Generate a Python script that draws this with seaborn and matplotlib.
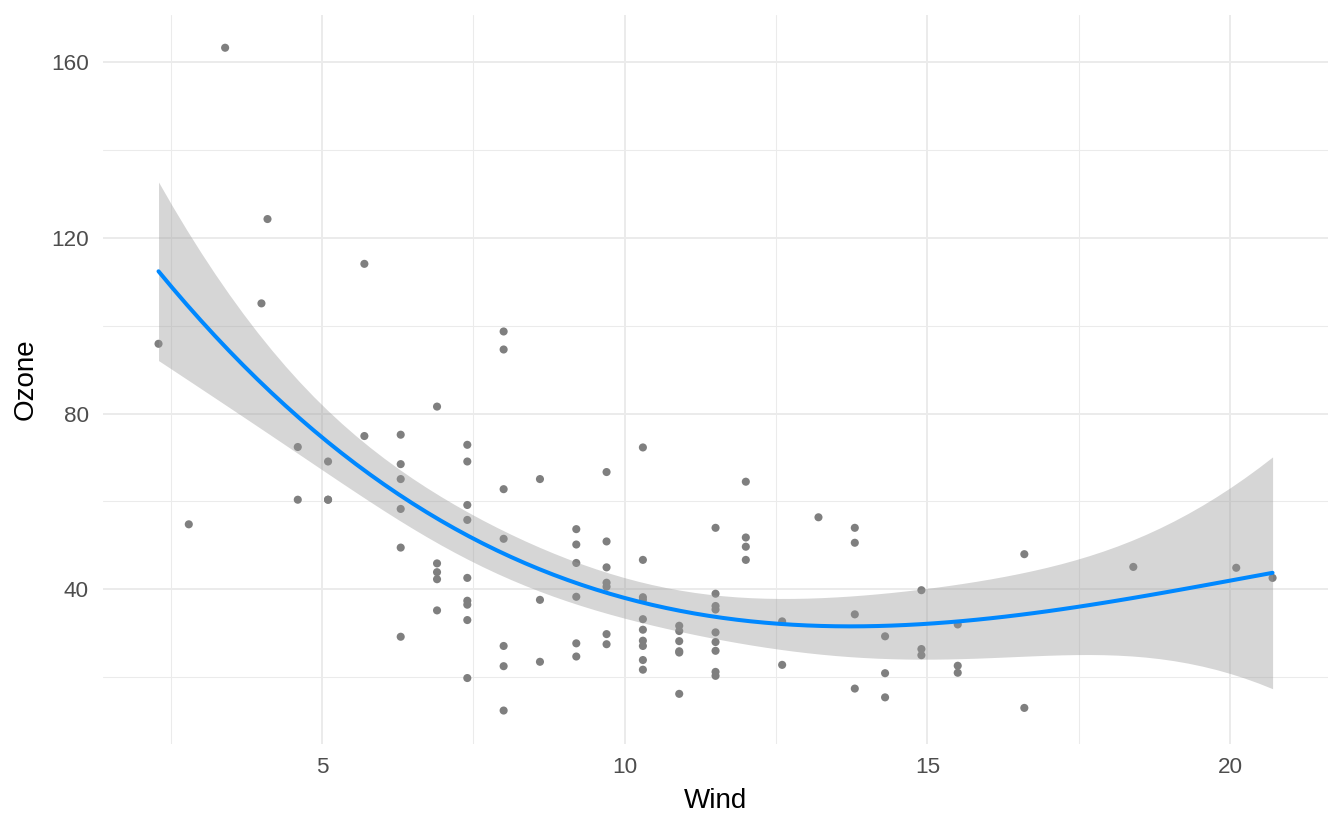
import numpy as np
import pandas as pd
import seaborn as sns
import matplotlib.pyplot as plt
from matplotlib.ticker import MultipleLocator

# Ozone vs Wind readings
wind = [2.3, 2.8, 3.4, 4.0, 4.1,
        4.6, 4.6,
        5.1, 5.1, 5.1,
        5.7, 5.7,
        6.3, 6.3, 6.3, 6.3, 6.3, 6.3,
        6.9, 6.9, 6.9, 6.9, 6.9,
        7.4, 7.4, 7.4, 7.4, 7.4, 7.4, 7.4, 7.4, 7.4,
        8.0, 8.0, 8.0, 8.0, 8.0, 8.0, 8.0,
        8.6, 8.6, 8.6,
        9.2, 9.2, 9.2, 9.2, 9.2, 9.2,
        9.7, 9.7, 9.7, 9.7, 9.7, 9.7, 9.7,
        10.3, 10.3, 10.3, 10.3, 10.3, 10.3, 10.3, 10.3, 10.3, 10.3,
        10.9, 10.9, 10.9, 10.9, 10.9, 10.9,
        11.5, 11.5, 11.5, 11.5, 11.5, 11.5, 11.5, 11.5, 11.5,
        12.0, 12.0, 12.0, 12.0,
        12.6, 12.6,
        13.2,
        13.8, 13.8, 13.8, 13.8,
        14.3, 14.3, 14.3,
        14.9, 14.9, 14.9,
        15.5, 15.5, 15.5,
        16.6, 16.6,
        18.4, 20.1, 20.7]
ozone = [95.9, 54.8, 163.3, 105.1, 124.3,
         72.4, 60.4,
         69.1, 60.4, 60.4,
         114.1, 74.9,
         75.2, 68.5, 65.1, 58.3, 49.5, 29.2,
         81.6, 45.9, 43.9, 42.3, 35.2,
         72.9, 69.1, 59.2, 55.8, 42.6, 37.4, 36.5, 33.0, 19.8,
         98.7, 94.6, 62.8, 51.5, 27.1, 22.5, 12.4,
         65.1, 37.6, 23.5,
         53.7, 50.2, 46.0, 38.3, 27.7, 24.7,
         66.7, 50.9, 45.0, 41.5, 40.6, 29.8, 27.5,
         72.3, 46.7, 38.2, 37.6, 33.2, 30.8, 28.3, 27.1, 23.9, 21.7,
         31.7, 30.5, 28.2, 25.9, 25.6, 16.2,
         54.0, 39.0, 36.2, 35.4, 30.2, 28.0, 26.0, 21.2, 20.3,
         64.5, 51.8, 49.7, 46.7,
         32.7, 22.8,
         56.4,
         54.0, 50.6, 34.3, 17.4,
         29.3, 20.9, 15.4,
         39.8, 26.4, 25.0,
         32.0, 22.6, 21.0,
         48.0, 13.0,
         45.1, 44.9, 42.6]

df = pd.DataFrame({"Wind": wind, "Ozone": ozone})
x = df["Wind"].to_numpy()
y = df["Ozone"].to_numpy()

# cubic least squares fit with 95% confidence band
deg = 3
X = np.vander(x, deg + 1, increasing=True)
beta, *_ = np.linalg.lstsq(X, y, rcond=None)
resid = y - X @ beta
n, p = X.shape
sigma2 = resid @ resid / (n - p)
xtx_inv = np.linalg.inv(X.T @ X)
grid = np.linspace(x.min(), x.max(), 80)
G = np.vander(grid, deg + 1, increasing=True)
fit = G @ beta
se = np.sqrt(np.einsum("ij,jk,ik->i", G, xtx_inv, G) * sigma2)
t_crit = 1.983
fit_df = pd.DataFrame({"Wind": grid, "Ozone": fit,
                       "lo": fit - t_crit * se, "hi": fit + t_crit * se})

sns.set_theme(style="white")
plt.rcParams["font.family"] = ["Liberation Sans", "DejaVu Sans"]

fig = plt.figure(figsize=(13.44, 8.3), dpi=100)
ax = fig.add_axes([0.0765, 0.104, 0.9118, 0.8784])

sns.scatterplot(data=df, x="Wind", y="Ozone", ax=ax, color="#7F7F7F",
                s=34, edgecolor="none", linewidth=0, zorder=3)
ax.fill_between(fit_df["Wind"], fit_df["lo"], fit_df["hi"],
                color="#999999", alpha=0.4, linewidth=0, zorder=4)
sns.lineplot(data=fit_df, x="Wind", y="Ozone", ax=ax, color="#0088FF",
             linewidth=2.9, zorder=5)

ax.margins(x=0.05, y=0.05)
ax.xaxis.set_major_locator(MultipleLocator(5))
ax.xaxis.set_minor_locator(MultipleLocator(2.5))
ax.yaxis.set_major_locator(MultipleLocator(40))
ax.yaxis.set_minor_locator(MultipleLocator(20))

ax.grid(which="major", color="#EBEBEB", linewidth=1.4)
ax.grid(which="minor", color="#EBEBEB", linewidth=0.75)
ax.set_axisbelow(True)
for sp in ax.spines.values():
    sp.set_visible(False)

ax.tick_params(which="both", length=0, labelsize=16.2, labelcolor="#4D4D4D")
ax.tick_params(axis="y", pad=10)
ax.tick_params(axis="x", pad=9.5)
ax.set_xlabel("Wind", fontsize=20, color="black", labelpad=7)
ax.set_ylabel("Ozone", fontsize=20, color="black", labelpad=9)

fig.savefig("out.png", dpi=100, facecolor="white")
